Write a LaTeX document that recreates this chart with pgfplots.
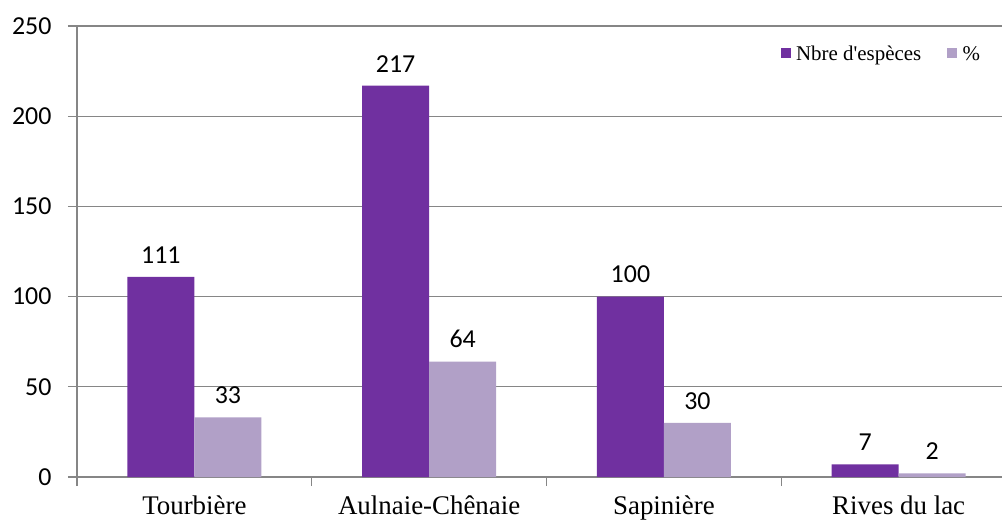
\documentclass[border=0pt]{standalone}
\usepackage{fontspec}
\setmainfont{Liberation Serif}
\newfontfamily\calibri{Carlito}
\usepackage{pgfplots}
\pgfplotsset{compat=1.18}
\definecolor{cA}{RGB}{112,48,160}
\definecolor{cB}{RGB}{177,160,199}
\definecolor{gridc}{RGB}{134,134,134}
\begin{document}
\begin{tikzpicture}
\begin{axis}[
  at={(0,0)}, anchor=south west,
  scale only axis, width=925bp, height=451bp,
  xmin=-0.5, xmax=3.44, ymin=0, ymax=250,
  ytick={0,50,...,250},
  xtick={0,1,2,3},
  xticklabels={Tourbière,Aulnaie-Chênaie,Sapinière,Rives du lac},
  minor xtick={-0.5,0.5,1.5,2.5},
  ymajorgrids, grid style={gridc, line width=1.2bp},
  axis x line*=bottom, axis y line*=left,
  axis line style={gridc, line width=1.2bp},
  tick align=outside, xtick pos=bottom, ytick pos=left,
  major tick length=9bp, minor tick length=9bp,
  tick style={gridc, line width=1.2bp},
  major x tick style={draw=none},
  /pgf/number format/assume math mode=true,
  yticklabel style={font=\calibri\fontsize{26}{26}\selectfont, xshift=-13bp},
  xticklabel style={font=\fontsize{27}{27}\selectfont, anchor=base, yshift=-28bp},
  ybar=0pt, bar width=67bp,
  nodes near coords,
  nodes near coords style={font=\calibri\fontsize{26}{26}\selectfont, text=black, yshift=10bp},
  legend style={draw=none, fill=none, font=\fontsize{21}{21}\selectfont,
    legend columns=2, at={(0.982,0.965)}, anchor=north east,
    /tikz/every even column/.append style={column sep=24bp}},
  legend image code/.code={\path[#1,draw=none] (0bp,-4bp) rectangle (10bp,6bp);},
]
\addplot[fill=cA, draw=none] coordinates {(0,111) (1,217) (2,100) (3,7)};
\addplot[fill=cB, draw=none] coordinates {(0,33) (1,64) (2,30) (3,2)};
\legend{\,Nbre d\textquotesingle espèces,\,\%}
\end{axis}
\pgfresetboundingbox
\useasboundingbox (-77bp,-46bp) rectangle (925bp,477bp);
\end{tikzpicture}
\end{document}
